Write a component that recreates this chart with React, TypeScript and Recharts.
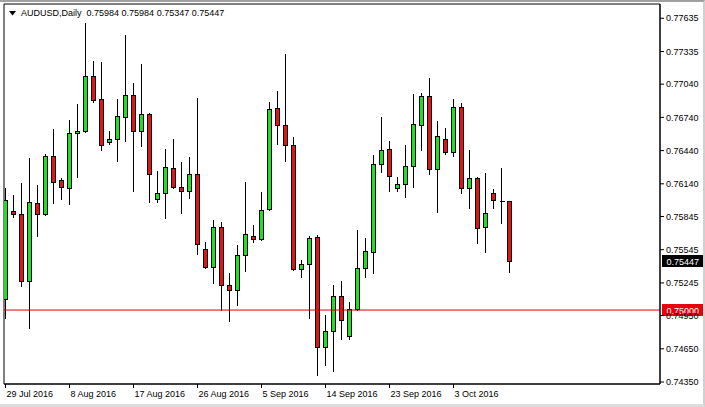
import React from "react";
import { ComposedChart, Bar, XAxis, YAxis, ReferenceLine, ReferenceArea } from "recharts";

// AUDUSD daily candles, 29 Jul 2016 .. 11 Oct 2016 (broker shows Sunday bars)
const opens = [
  0.75099, 0.75894, 0.75867, 0.75262, 0.75967, 0.75867, 0.76391, 0.76174, 0.76102, 0.76599,
  0.76617, 0.77114, 0.76906, 0.76518, 0.76545, 0.76744, 0.76942, 0.76617, 0.76771, 0.76003,
  0.76057, 0.76283, 0.76111, 0.76075, 0.76229, 0.75551, 0.75389, 0.7575, 0.75226, 0.75181,
  0.75497, 0.75669, 0.75641, 0.75912, 0.76825, 0.76671, 0.76491, 0.7537, 0.75416, 0.75659,
  0.74666, 0.7481, 0.75127, 0.74765, 0.75009, 0.75379, 0.75524, 0.76319, 0.76454, 0.76102,
  0.76138, 0.76301, 0.76671, 0.76933, 0.76274, 0.76545, 0.76427, 0.76834, 0.76102, 0.76192,
  0.7575, 0.76057, 0.75985, 0.75984,
];
const highs = [
  0.76102, 0.76039, 0.76147, 0.76373, 0.76129, 0.76409, 0.76635, 0.76192, 0.76716, 0.76861,
  0.77593, 0.77249, 0.7724, 0.76617, 0.76906, 0.77484, 0.77051, 0.77222, 0.7678, 0.76256,
  0.76454, 0.76545, 0.76337, 0.76382, 0.76915, 0.75614, 0.75813, 0.75795, 0.75334, 0.75587,
  0.76156, 0.75768, 0.76066, 0.76879, 0.76978, 0.77313, 0.76563, 0.75452, 0.75669, 0.75678,
  0.74955, 0.75226, 0.75262, 0.75072, 0.75723, 0.7565, 0.764, 0.76743, 0.76527, 0.76201,
  0.76491, 0.76951, 0.7696, 0.77096, 0.76707, 0.76644, 0.76906, 0.7687, 0.76445, 0.76201,
  0.76238, 0.76093, 0.76283, 0.75984,
];
const lows = [
  0.74928, 0.7584, 0.75217, 0.74838, 0.75669, 0.75858, 0.75967, 0.76003, 0.75958, 0.76201,
  0.76608, 0.76879, 0.76445, 0.765, 0.76346, 0.76527, 0.76075, 0.76482, 0.75976, 0.75976,
  0.75831, 0.76102, 0.75876, 0.76012, 0.75506, 0.75379, 0.75244, 0.75, 0.74901, 0.75045,
  0.75352, 0.75614, 0.75632, 0.75903, 0.765, 0.76346, 0.75361, 0.75298, 0.74928, 0.74413,
  0.74503, 0.74449, 0.74738, 0.74738, 0.75, 0.75298, 0.75334, 0.76247, 0.76075, 0.76075,
  0.76021, 0.76111, 0.76445, 0.76229, 0.75885, 0.76409, 0.76391, 0.76057, 0.75921, 0.75605,
  0.75524, 0.75921, 0.75786, 0.75347,
];
const closes = [
  0.75994, 0.75867, 0.75262, 0.75976, 0.75867, 0.76391, 0.76156, 0.76111, 0.76599, 0.76617,
  0.77114, 0.76897, 0.76491, 0.76545, 0.76753, 0.76942, 0.76617, 0.76771, 0.76229, 0.76057,
  0.76292, 0.76111, 0.76075, 0.76229, 0.75596, 0.75389, 0.7575, 0.75226, 0.75181, 0.75497,
  0.75687, 0.75641, 0.75903, 0.76816, 0.76671, 0.76491, 0.7537, 0.75416, 0.7565, 0.74666,
  0.7481, 0.75127, 0.7491, 0.75009, 0.75379, 0.75533, 0.76319, 0.76445, 0.76211, 0.76138,
  0.76301, 0.7668, 0.76933, 0.76274, 0.76572, 0.76427, 0.76834, 0.76102, 0.76192, 0.75741,
  0.75876, 0.75994, 0.75984, 0.75447,
];

const tickDays = [0, 8, 16, 24, 32, 40, 48, 56];
const tickLabels = [
  "29 Jul 2016", "8 Aug 2016", "17 Aug 2016", "26 Aug 2016",
  "5 Sep 2016", "14 Sep 2016", "23 Sep 2016", "3 Oct 2016",
];
const priceTicks = [
  0.77635, 0.77335, 0.7704, 0.7674, 0.7644, 0.7614, 0.75845, 0.75545, 0.75245, 0.7495, 0.7465, 0.7435,
];
const priceDomain = [0.74332, 0.77764];
const dayDomain = [-0.1875, 81.8125]; // chart shift leaves room on the right
const levelPrice = 0.75;

const symbol = "AUDUSD,Daily";
const FONT = "'Liberation Sans', Arial, sans-serif";
const UP = "#1ee01e";
const DOWN = "#e41414";

const last = closes.length - 1;
const candles = opens.map((open, i) => ({
  day: i,
  open,
  high: highs[i],
  low: lows[i],
  close: closes[i],
  range: [lows[i], highs[i]],
}));

const Candle = (props: any) => {
  const { x, y, width, height, payload } = props;
  if (!payload) return null;
  const { open, high, low, close } = payload;
  const top = Math.min(y, y + height);
  const span = Math.abs(height);
  const ppu = high === low ? 0 : span / (high - low);
  const cx = Math.floor(x + width / 2 + 0.01) + 0.5;
  const yO = top + (high - open) * ppu;
  const yC = top + (high - close) * ppu;
  const bTop = Math.round(Math.min(yO, yC)) + 0.5;
  const bBot = Math.round(Math.max(yO, yC)) + 0.5;
  const wTop = Math.round(top);
  const wBot = Math.round(top + span);
  return (
    <g shapeRendering="crispEdges">
      <line x1={cx} x2={cx} y1={wTop} y2={wBot + 1} stroke="#000" strokeWidth={1} />
      {bBot - bTop < 1 ? (
        <line x1={cx - 2} x2={cx + 3} y1={bTop} y2={bTop} stroke="#000" strokeWidth={1} />
      ) : (
        <rect
          x={cx - 2}
          y={bTop}
          width={4}
          height={bBot - bTop}
          fill={close >= open ? UP : DOWN}
          stroke="#000"
          strokeWidth={1}
        />
      )}
    </g>
  );
};

const DateTick = ({ x, y, payload }: any) => {
  const idx = tickDays.indexOf(payload.value);
  return (
    <text x={x + 1} y={y + 7} fill="#000" fontSize={9} fontFamily={FONT} textAnchor="start">
      {idx >= 0 ? tickLabels[idx] : ""}
    </text>
  );
};

const PriceTag = ({ viewBox, value, fill }: any) => {
  if (!viewBox) return null;
  const left = viewBox.x + viewBox.width + 2;
  const cy = Math.round(viewBox.y);
  return (
    <g shapeRendering="crispEdges">
      <rect x={left} y={cy - 6} width={41} height={12} fill={fill} />
      <text x={left + 4.5} y={cy + 3.5} fill="#fff" fontSize={9} fontFamily={FONT}>
        {value.toFixed(5)}
      </text>
    </g>
  );
};

export default function App() {
  return (
    <div
      style={{
        position: "absolute",
        left: 0,
        top: 0,
        width: 705,
        height: 407,
        background: "#fff",
        boxSizing: "border-box",
        borderTop: "2px solid #a0a0a0",
        borderRight: "2px solid #d0d0d0",
        borderBottom: "3px solid #dcdcdc",
        overflow: "hidden",
        fontFamily: FONT,
      }}
    >
      <div style={{ position: "absolute", left: 0, top: -2 }}>
        <ComposedChart
          width={705}
          height={407}
          data={candles}
          margin={{ top: 4, right: 0, bottom: 0, left: 4 }}
        >
          <XAxis
            type="number"
            dataKey="day"
            domain={dayDomain}
            ticks={tickDays}
            interval={0}
            allowDataOverflow
            height={23}
            tickSize={4}
            tickMargin={2}
            axisLine={{ stroke: "#000" }}
            tickLine={{ stroke: "#000" }}
            tick={<DateTick />}
          />
          <YAxis
            orientation="right"
            type="number"
            domain={priceDomain}
            ticks={priceTicks}
            interval={0}
            allowDataOverflow
            width={45}
            tickSize={4}
            tickMargin={2}
            axisLine={{ stroke: "#000" }}
            tickLine={{ stroke: "#000" }}
            tick={{ fill: "#000", fontSize: 9, fontFamily: FONT }}
            tickFormatter={(v: number) => v.toFixed(5)}
          />
          <ReferenceArea
            x1={dayDomain[0]}
            x2={dayDomain[1]}
            y1={priceDomain[0]}
            y2={priceDomain[1]}
            fill="none"
            stroke="#000"
            ifOverflow="visible"
          />
          <Bar dataKey="range" barSize={5} shape={<Candle />} isAnimationActive={false} />
          <ReferenceLine
            y={levelPrice}
            stroke="#e00000"
            strokeWidth={1}
            label={<PriceTag value={levelPrice} fill="#e8000b" />}
          />
          <ReferenceLine
            y={closes[last]}
            stroke="none"
            label={<PriceTag value={closes[last]} fill="#000" />}
          />
        </ComposedChart>
      </div>
      <div
        style={{
          position: "absolute",
          left: 9,
          top: 6,
          fontSize: 9,
          lineHeight: "11px",
          color: "#000",
          whiteSpace: "pre",
          display: "flex",
          alignItems: "center",
        }}
      >
        <svg width={7} height={5} style={{ marginRight: 5 }}>
          <polygon points="0,0 7,0 3.5,4.5" fill="#000" />
        </svg>
        <span>
          {symbol}  {opens[last].toFixed(5)} {highs[last].toFixed(5)} {lows[last].toFixed(5)}{" "}
          {closes[last].toFixed(5)}
        </span>
      </div>
    </div>
  );
}
